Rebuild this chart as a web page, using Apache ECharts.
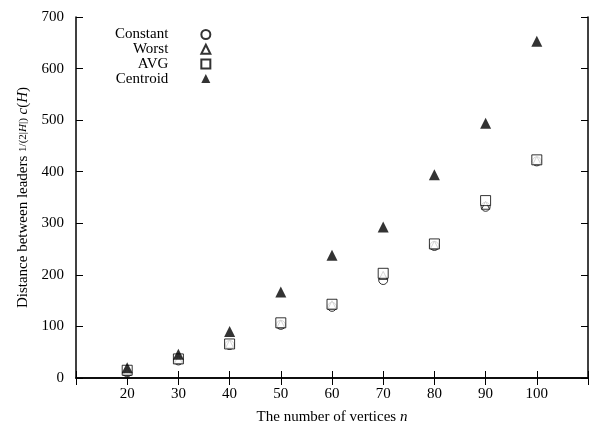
<!DOCTYPE html>
<html>
<head>
<meta charset="utf-8">
<script src="https://cdn.jsdelivr.net/npm/echarts@6/dist/echarts.min.js"></script>
<style>
  html, body { margin: 0; padding: 0; background: #fff; }
  #chart { width: 600px; height: 430px; }
</style>
</head>
<body>
<div id="chart"></div>
<script>
// values
const vertices = [20, 30, 40, 50, 60, 70, 80, 90, 100]
const constantVals = [11, 34, 64, 103, 138, 190, 256, 332, 420]
const worstVals = [13, 36, 66, 105, 142, 199, 258, 335, 422]
const avgVals = [15, 37, 66, 107, 143, 203, 260, 344, 423]
const centroidVals = [20, 46, 90, 167, 238, 293, 394, 494, 653]
const xTicks = [20, 30, 40, 50, 60, 70, 80, 90, 100]

const font = 'Liberation Serif'

function pairs(vals) {
  return vertices.map((v, i) => [v, vals[i]])
}

const chart = echarts.init(document.getElementById('chart'))

const hollow = { color: '#fff', borderColor: '#000', borderWidth: 1 }
const solid = { color: '#000' }

const axisLine = { show: true, lineStyle: { color: '#000', width: 1.5 } }
const tick = { show: true, inside: true, length: 7, lineStyle: { color: '#000', width: 1 } }

const option = {
  animation: false,
  textStyle: { fontFamily: font },
  grid: { left: 76, right: 12, top: 17, bottom: 52 },
  legend: {
    orient: 'vertical',
    left: 110,
    top: 22,
    align: 'right',
    itemGap: -0.3,
    itemWidth: 9,
    itemHeight: 9,
    formatter: name => '{a|' + name + '}',
    textStyle: {
      fontFamily: font,
      fontSize: 15,
      color: '#000',
      rich: { a: { width: 69, align: 'right', padding: [0, 28, 0, 0], fontSize: 15, fontFamily: font, color: '#000' } }
    },
    data: ['Constant', 'Worst', 'AVG', 'Centroid']
  },
  xAxis: [
    {
      type: 'value',
      min: 10,
      max: 110,
      interval: 10,
      name: '{t|The number of vertices }{i|n}',
      nameLocation: 'middle',
      nameGap: 32,
      nameTextStyle: {
        rich: {
          t: { fontFamily: font, fontSize: 15, color: '#000' },
          i: { fontFamily: font, fontSize: 15, color: '#000', fontStyle: 'italic' }
        }
      },
      axisLine: axisLine,
      axisTick: tick,
      splitLine: { show: false },
      axisLabel: {
        margin: 9,
        color: '#000',
        fontSize: 15,
        fontFamily: font,
        formatter: v => xTicks.indexOf(v) >= 0 ? String(v) : ''
      }
    },
    {
      type: 'value',
      position: 'top',
      min: 10,
      max: 110,
      interval: 10,
      axisLine: axisLine,
      axisTick: tick,
      axisLabel: { show: false },
      splitLine: { show: false }
    }
  ],
  yAxis: [
    {
      type: 'value',
      min: 0,
      max: 700,
      interval: 100,
      name: '{t|Distance between leaders }{f|1/(2|}{fi|H}{f||)}{i| c}{t|(}{i|H}{t|)}',
      nameLocation: 'middle',
      nameGap: 44,
      nameTextStyle: {
        rich: {
          t: { fontFamily: font, fontSize: 15, color: '#000' },
          i: { fontFamily: font, fontSize: 15, color: '#000', fontStyle: 'italic' },
          f: { fontFamily: font, fontSize: 11, color: '#000' },
          fi: { fontFamily: font, fontSize: 11, color: '#000', fontStyle: 'italic' }
        }
      },
      axisLine: axisLine,
      axisTick: tick,
      splitLine: { show: false },
      axisLabel: { margin: 12, color: '#000', fontSize: 15, fontFamily: font }
    },
    {
      type: 'value',
      position: 'right',
      min: 0,
      max: 700,
      interval: 100,
      axisLine: axisLine,
      axisTick: tick,
      axisLabel: { show: false },
      splitLine: { show: false }
    }
  ],
  series: [
    { name: 'Constant', type: 'scatter', symbol: 'circle', symbolSize: 9, itemStyle: hollow, data: pairs(constantVals) },
    { name: 'Worst', type: 'scatter', symbol: 'triangle', symbolSize: 8, itemStyle: hollow, data: pairs(worstVals) },
    { name: 'AVG', type: 'scatter', symbol: 'rect', symbolSize: 10, itemStyle: hollow, data: pairs(avgVals) },
    { name: 'Centroid', type: 'scatter', symbol: 'triangle', symbolSize: 11, itemStyle: solid, data: pairs(centroidVals) }
  ]
}

chart.setOption(option)
</script>
</body>
</html>
